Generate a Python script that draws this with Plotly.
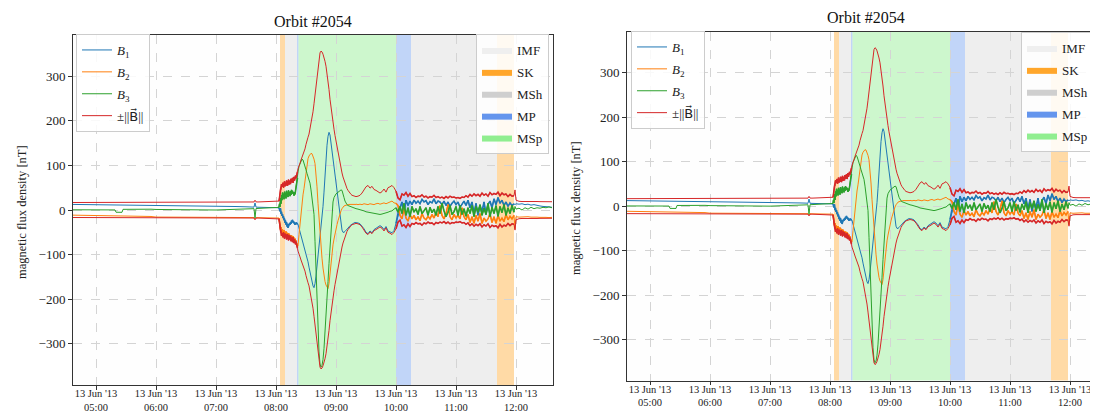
import plotly.graph_objects as go

DAY = "2013-06-13 "
SERIF = "Liberation Serif, DejaVu Serif, serif"

# ---------------- magnetic field data (nT) ----------------
# quiet solar-wind part
t_quiet = ["04:36", "04:45", "04:55", "05:05", "05:12", "05:19", "05:20", "05:26", "05:27", "05:35",
           "05:45", "05:55", "06:00", "06:10", "06:20", "06:30", "06:40", "06:50", "07:00", "07:10",
           "07:20", "07:30", "07:36", "07:38", "07:39", "07:40", "07:42", "07:48", "07:54", "08:00", "08:02"]
bmag_quiet = [16.8, 16.9, 17.0, 17.1, 17.0, 17.2, 17.6, 17.5, 17.2, 17.1, 17.0, 16.9, 17.0, 17.1, 17.2, 17.3,
              17.2, 17.4, 17.5, 17.6, 17.7, 17.8, 17.9, 18.0, 22.0, 18.2, 18.0, 18.1, 18.3, 18.5, 19.0]
b1_quiet = [12.5, 12.3, 12.0, 11.8, 11.6, 11.5, 11.8, 11.6, 11.2, 11.0, 10.8, 10.5, 10.4, 10.2, 9.8, 9.6,
            9.3, 9.0, 8.6, 8.2, 7.8, 7.2, 6.8, 6.5, 16.0, 6.5, 6.2, 5.8, 5.5, 5.2, 5.0]
b2_quiet = [-11.5, -11.8, -12.0, -11.8, -12.2, -12.0, -12.3, -12.1, -12.5, -12.4, -12.8, -14.5, -15.8, -16.0,
            -16.1, -16.2, -16.3, -16.4, -16.5, -16.6, -16.7, -16.8, -16.9, -17.0, -20.0, -17.0, -17.2, -17.2,
            -17.4, -17.6, -17.8]
b3_quiet = [0.5, 0.2, 0.8, 0.0, -0.3, 0.2, -5.0, -5.2, 1.5, 2.0, 2.5, 1.8, 1.2, 1.0, 0.5, 0.0, -0.5, 0.3,
            0.0, 0.8, 1.5, 2.0, 2.5, 3.0, -18.0, 3.2, 3.5, 4.0, 4.5, 5.0, 6.0]

# bow-shock / magnetosheath onset (30 s steps)
t_onset = ["08:03:00", "08:03:30", "08:04:00", "08:04:30", "08:05:00", "08:05:30", "08:06:00", "08:06:30",
           "08:07:00", "08:07:30", "08:08:00", "08:08:30", "08:09:00", "08:09:30", "08:10:00", "08:10:30",
           "08:11:00", "08:11:30", "08:12:00", "08:12:30", "08:13:00", "08:13:30", "08:14:00", "08:14:30",
           "08:15:00", "08:15:30", "08:16:00", "08:16:30", "08:17:00", "08:17:30", "08:18:00", "08:18:30",
           "08:19:00", "08:19:30", "08:20:00", "08:20:30", "08:21:00", "08:21:30"]
bmag_onset = [20, 28, 41, 50, 46, 58, 52, 55, 61, 50, 57, 64, 53, 58, 55, 66, 59, 54, 62, 68,
              57, 63, 66, 58, 70, 62, 65, 72, 61, 69, 74, 66, 70, 77, 71, 80, 79, 86]
b1_onset = [5, 1, -3, 4, -9, -4, -13, -9, -18, -14, -23, -19, -29, -24, -33, -27, -37, -31, -40, -35,
            -37, -30, -33, -27, -31, -24, -28, -22, -27, -25, -30, -27, -33, -29, -31, -28, -32, -30]
b2_onset = [-18, -26, -33, -44, -38, -50, -43, -52, -47, -49, -45, -57, -49, -53, -48, -60, -51, -54, -52, -61,
            -53, -57, -56, -63, -57, -59, -58, -66, -59, -63, -62, -69, -64, -71, -68, -76, -75, -82]
b3_onset = [6, 14, 7, 27, 14, 33, 22, 39, 27, 36, 24, 41, 31, 35, 26, 43, 33, 37, 29, 44,
            36, 39, 31, 42, 34, 45, 38, 43, 36, 40, 32, 39, 35, 45, 48, 55, 62, 72]

# magnetosphere pass (1 min steps)
t_main = ["08:22", "08:23", "08:24", "08:25", "08:26", "08:27", "08:28", "08:29", "08:30", "08:31",
          "08:32", "08:33", "08:34", "08:35", "08:36", "08:37", "08:38", "08:39", "08:40", "08:41",
          "08:42", "08:43", "08:44", "08:45", "08:46", "08:47", "08:48", "08:49", "08:50", "08:51",
          "08:52", "08:53", "08:54", "08:55", "08:56", "08:57", "08:58", "08:59", "09:00", "09:01",
          "09:02", "09:03", "09:04", "09:05", "09:06", "09:07", "09:08", "09:09", "09:10", "09:11",
          "09:12", "09:13", "09:14", "09:15", "09:16", "09:17", "09:18", "09:19", "09:20"]
bmag_main = [92, 97, 105, 112, 118, 123, 131, 137, 147, 153,
             163, 170, 181, 192, 206, 220, 238, 258, 282, 306,
             326, 342, 352, 356, 354, 349, 342, 333, 322, 308,
             290, 270, 248, 228, 212, 196, 181, 167, 154, 141,
             128, 116, 104, 93, 83, 74, 66, 59, 53, 48,
             44, 40, 37, 35, 33, 32, 31, 30, 30]
b1_main = [-32, -40, -50, -58, -66, -72, -80, -88, -96, -105,
           -116, -128, -139, -150, -160, -170, -174, -165, -148, -127,
           -105, -82, -60, -38, -15, 8, 40, 80, 115, 145,
           165, 174, 168, 150, 127, 108, 90, 72, 52, 33,
           15, -2, -20, -35, -45, -50, -50, -48, -46, -43,
           -41, -38, -35, -33, -31, -30, -29, -28, -28]
b2_main = [-80, -55, -28, 0, 18, 34, 48, 68, 88, 104,
           115, 121, 125, 127, 126, 121, 114, 104, 85, 52,
           15, -20, -52, -82, -108, -130, -148, -160, -168, -173,
           -176, -165, -140, -110, -92, -78, -65, -52, -42, -33,
           -24, -15, -8, -2, 3, 7, 9, 10, 11, 11,
           12, 12, 13, 12, 13, 12, 13, 12, 13]
b3_main = [85, 98, 104, 110, 114, 112, 106, 98, 90, 82,
           75, 68, 60, 45, 25, 8, -10, -70, -140, -210,
           -270, -318, -345, -352, -348, -335, -310, -278, -240, -200,
           -160, -120, -80, -40, -5, 18, 28, 33, 36, 38,
           40, 42, 44, 45, 44, 38, 28, 20, 15, 12,
           10, 9, 8, 7, 6, 5, 4, 4, 3]

# inner magnetosphere tail (2 min steps)
t_tail = ["09:22", "09:24", "09:26", "09:28", "09:30", "09:32", "09:34", "09:36", "09:38", "09:40",
          "09:42", "09:44", "09:46", "09:48", "09:50", "09:52", "09:54", "09:56", "09:58"]
bmag_tail = [31, 33, 38, 44, 52, 55, 49, 53, 46, 44, 40, 38, 41, 47, 40, 50, 52, 55, 50]
b1_tail = [-29, -31, -36, -42, -50, -53, -47, -51, -44, -41, -37, -35, -38, -44, -37, -47, -49, -51, -46]
b2_tail = [12, 13, 12, 14, 13, 12, 14, 13, 12, 14, 15, 13, 14, 16, 14, 17, 18, 20, 16]
b3_tail = [2, 1, 0, -2, -4, -5, -6, -7, -8, -9, -10, -10, -9, -8, -6, -5, -3, -2, 2]

# turbulent outbound magnetosheath (2 min steps)
t_sheath = ["10:00", "10:02", "10:04", "10:06", "10:08", "10:10", "10:12", "10:14", "10:16", "10:18",
            "10:20", "10:22", "10:24", "10:26", "10:28", "10:30", "10:32", "10:34", "10:36", "10:38",
            "10:40", "10:42", "10:44", "10:46", "10:48", "10:50", "10:52", "10:54", "10:56", "10:58",
            "11:00", "11:02", "11:04", "11:06", "11:08", "11:10", "11:12", "11:14", "11:16", "11:18",
            "11:20", "11:22", "11:24", "11:26", "11:28", "11:30", "11:32", "11:34", "11:36", "11:38",
            "11:40", "11:42", "11:44", "11:46", "11:48", "11:50", "11:52", "11:54", "11:56", "11:58"]
bmag_sheath = [42, 27, 23, 36, 33, 39, 31, 37, 30, 32,
               28, 31, 30, 34, 29, 31, 27, 30, 29, 33,
               28, 30, 27, 29, 26, 30, 27, 31, 28, 29,
               27, 28, 26, 29, 28, 32, 29, 35, 31, 36,
               32, 35, 31, 38, 33, 36, 31, 39, 34, 37,
               35, 40, 32, 38, 34, 36, 30, 35, 31, 32]
b1_sheath = [-30, -8, 5, 18, -5, 22, 10, 20, 12, 22,
             15, 20, 14, 24, 18, 21, 12, 19, 16, 25,
             14, 20, 18, 12, 20, 10, 18, 8, 15, 20,
             12, 18, 6, 14, 20, 10, 22, 5, 18, -8,
             15, -12, 10, -5, 18, -10, 12, 20, 5, 25,
             12, 28, 15, 22, 10, 18, 8, 16, 10, 14]
b2_sheath = [15, 10, -12, -20, 5, -18, -25, -10, -20, -12,
             -22, -15, -24, -8, -18, -22, -14, -20, -10, -18,
             -5, -15, 10, -12, -20, -8, 12, -15, -22, -10,
             -18, -12, -20, 5, -15, -22, -10, -28, -15, -30,
             -12, -25, -8, -30, -18, -25, -20, -8, -28, -15,
             -30, -12, -25, -18, -26, -10, -22, -14, -20, -12]
b3_sheath = [5, -5, 8, -8, 15, -12, 5, -15, 8, -5,
             3, -10, 8, -8, -2, 5, -12, 6, -6, 2,
             -12, 8, -8, 15, -2, -15, -5, 10, -10, -4,
             8, -12, 10, -10, 3, -14, 5, -8, 10, -15,
             8, -5, 12, -12, 4, -10, 15, -15, 6, -8,
             10, -14, 8, -6, 12, -12, 5, -8, 10, -5]

# back in the solar wind
t_late = ["11:59", "12:00", "12:03", "12:06", "12:09", "12:12", "12:15", "12:18", "12:21", "12:24",
          "12:27", "12:30", "12:33", "12:36"]
bmag_late = [45, 22, 19.5, 19, 19.3, 18.9, 19.1, 18.8, 19, 18.7, 18.9, 18.6, 18.7, 18.5]
b1_late = [12, 14, 13, 14, 12, 13, 11, 12, 10, 9, 8, 8, 7, 6]
b2_late = [-42, -15, -16, -15.5, -16, -15, -16, -15.5, -16, -16.5, -16, -16.5, -17, -16.5]
b3_late = [8, 2, 4, 0, 5, 2, 6, 3, 5, 4, 6, 5, 7, 5]

# region classification
band_start = ["04:36", "08:04", "08:09", "08:21", "08:22:30", "10:00", "10:15", "11:41", "11:58"]
band_end = ["08:04", "08:09", "08:21", "08:22:30", "10:00", "10:15", "11:41", "11:58", "12:40"]
band_kind = ["IMF", "SK", "MSh", "MP", "MSp", "MP", "MSh", "SK", "IMF"]
region_names = ["IMF", "SK", "MSh", "MP", "MSp"]
region_colors = {"IMF": "#efefef", "SK": "#ffa62b", "MSh": "#cfcfcf", "MP": "#6495ed", "MSp": "#90ee90"}
region_alpha = {"IMF": 0.08, "SK": 0.42, "MSh": 0.36, "MP": 0.4, "MSp": 0.45}

hour_ticks = ["05:00", "06:00", "07:00", "08:00", "09:00", "10:00", "11:00", "12:00"]
y_ticks = [-300, -200, -100, 0, 100, 200, 300]


def ts(hm):
    return DAY + (hm if hm.count(":") == 2 else hm + ":00")


segments = [
    (t_quiet, bmag_quiet, b1_quiet, b2_quiet, b3_quiet),
    (t_onset, bmag_onset, b1_onset, b2_onset, b3_onset),
    (t_main, bmag_main, b1_main, b2_main, b3_main),
    (t_tail, bmag_tail, b1_tail, b2_tail, b3_tail),
    (t_sheath, bmag_sheath, b1_sheath, b2_sheath, b3_sheath),
    (t_late, bmag_late, b1_late, b2_late, b3_late),
]
noisy = {1, 4}

times = [ts(t) for seg in segments for t in seg[0]]
bmag = [v for seg in segments for v in seg[1]]
b1 = [v for seg in segments for v in seg[2]]
b2 = [v for seg in segments for v in seg[3]]
b3 = [v for seg in segments for v in seg[4]]
bneg = [-v for v in bmag]

# page offset: the browser body has an 8 px margin
OFF = 8
W, H = 1098 - OFF, 414 - OFF


def xp(px):
    return (px - OFF) / W


def yp(py):
    return 1 - (py - OFF) / H


fig = go.Figure()

panels = [
    dict(xa="x", ya="y", lg_lines="legend", lg_reg="legend2"),
    dict(xa="x2", ya="y2", lg_lines="legend3", lg_reg="legend4"),
]

series = [
    ("b1", 2, "#1f77b4", "<i>B</i><sub>1</sub>"),
    ("b2", 3, "#ff7f0e", "<i>B</i><sub>2</sub>"),
    ("b3", 4, "#2ca02c", "<i>B</i><sub>3</sub>"),
    ("bm", 1, "#d62728",
     "±||<span style=\"font-family:'DejaVu Sans'\">B\u20d7</span>||"),
]


def noisy_overlay(idx, sign, col, p, grp):
    for k in noisy:
        seg = segments[k]
        tt = [ts(t) for t in seg[0]]
        yy = [sign * v for v in seg[idx]]
        fig.add_trace(go.Scatter(x=tt, y=yy, mode="lines", showlegend=False,
                                 line=dict(color=col, width=1.6),
                                 xaxis=p["xa"], yaxis=p["ya"], legendgroup=grp, hoverinfo="skip"))


shapes = []
for i, p in enumerate(panels):
    for key, idx, col, name in series:
        vals = {1: bmag, 2: b1, 3: b2, 4: b3}[idx]
        grp = f"{key}{i}"
        fig.add_trace(go.Scatter(x=times, y=vals, mode="lines", name=name,
                                 line=dict(color=col, width=1),
                                 xaxis=p["xa"], yaxis=p["ya"], legend=p["lg_lines"],
                                 legendgroup=grp))
        noisy_overlay(idx, 1, col, p, grp)
        if key == "bm":
            fig.add_trace(go.Scatter(x=times, y=bneg, mode="lines", showlegend=False,
                                     line=dict(color=col, width=1),
                                     xaxis=p["xa"], yaxis=p["ya"], legendgroup=grp))
            noisy_overlay(idx, -1, col, p, grp)
    # region legend entries
    for r in region_names:
        fig.add_trace(go.Scatter(x=[None], y=[None], mode="lines", fill="toself",
                                 fillcolor=region_colors[r], line=dict(width=0, color=region_colors[r]),
                                 name=r, xaxis=p["xa"], yaxis=p["ya"], legend=p["lg_reg"],
                                 legendgroup=f"{r}{i}"))
    # region bands
    for s, e, k in zip(band_start, band_end, band_kind):
        shapes.append(dict(type="rect", xref=p["xa"], yref=f"{p['ya']} domain",
                           x0=ts(s), x1=ts(e), y0=0, y1=1,
                           fillcolor=region_colors[k], opacity=region_alpha[k],
                           line=dict(width=0), layer="below"))

tickvals = [ts(h) for h in hour_ticks]
ticktext = [f"13 Jun '13<br>{h}" for h in hour_ticks]

axis_common = dict(showline=True, linecolor="#333333", linewidth=1, ticks="outside", ticklen=3.5,
                   tickcolor="#333333", showgrid=True, gridcolor="#d4d4d4", griddash="dash",
                   gridwidth=0.8, zeroline=False, automargin=False)

xcommon = dict(axis_common, type="date", tickmode="array", tickvals=tickvals, ticktext=ticktext,
               tickfont=dict(family=SERIF, size=10.5, color="#222222"), mirror=True,
               ticklabelstandoff=-5)
ycommon = dict(axis_common, tickmode="array", tickvals=y_ticks, range=[-392, 392],
               tickfont=dict(family=SERIF, size=13, color="#222222"))

legend_lines = dict(bgcolor="rgba(255,255,255,0.85)", bordercolor="#cccccc", borderwidth=1,
                    font=dict(family=SERIF, size=13, color="#222222"), traceorder="grouped",
                    tracegroupgap=2, itemwidth=30, xanchor="left", yanchor="top")
legend_reg = dict(legend_lines)

fig.update_layout(
    template="none",
    width=W, height=H, margin=dict(l=0, r=0, t=0, b=0, pad=0, autoexpand=False),
    paper_bgcolor="white", plot_bgcolor="white",
    font=dict(family=SERIF, color="#222222"),
    xaxis=dict(xcommon, domain=[xp(72.5), xp(552.5)], anchor="y",
               range=[ts("04:36:30"), ts("12:36:30")]),
    yaxis=dict(ycommon, domain=[yp(385), yp(35)], anchor="x", mirror=True),
    xaxis2=dict(xcommon, domain=[xp(626.5), 1.0], anchor="y2",
                range=[ts("04:36:30"), ts("12:28:00")]),
    yaxis2=dict(ycommon, domain=[yp(380.6), yp(31.7)], anchor="x2", mirror=False),
    legend=dict(legend_lines, x=xp(76), y=yp(34)),
    legend2=dict(legend_reg, x=xp(549), y=yp(34), xanchor="right"),
    legend3=dict(legend_lines, x=xp(631), y=yp(31)),
    legend4=dict(legend_reg, x=xp(1021), y=yp(32), xanchor="left"),
    shapes=shapes,
    showlegend=True,
    hovermode=False,
    annotations=[
        dict(text="Orbit #2054", x=xp(312.5), y=yp(22), xref="paper", yref="paper",
             showarrow=False, font=dict(family=SERIF, size=16, color="#111111"),
             xanchor="center", yanchor="middle"),
        dict(text="Orbit #2054", x=xp(866), y=yp(18), xref="paper", yref="paper",
             showarrow=False, font=dict(family=SERIF, size=16, color="#111111"),
             xanchor="center", yanchor="middle"),
        dict(text="magnetic flux density [nT]", x=xp(22), y=yp(212), xref="paper", yref="paper",
             showarrow=False, textangle=-90, font=dict(family=SERIF, size=12.5, color="#222222"),
             xanchor="center", yanchor="middle"),
        dict(text="magnetic flux density [nT]", x=xp(576), y=yp(208), xref="paper", yref="paper",
             showarrow=False, textangle=-90, font=dict(family=SERIF, size=12.5, color="#222222"),
             xanchor="center", yanchor="middle"),
    ],
)

fig.write_html("out.html")
